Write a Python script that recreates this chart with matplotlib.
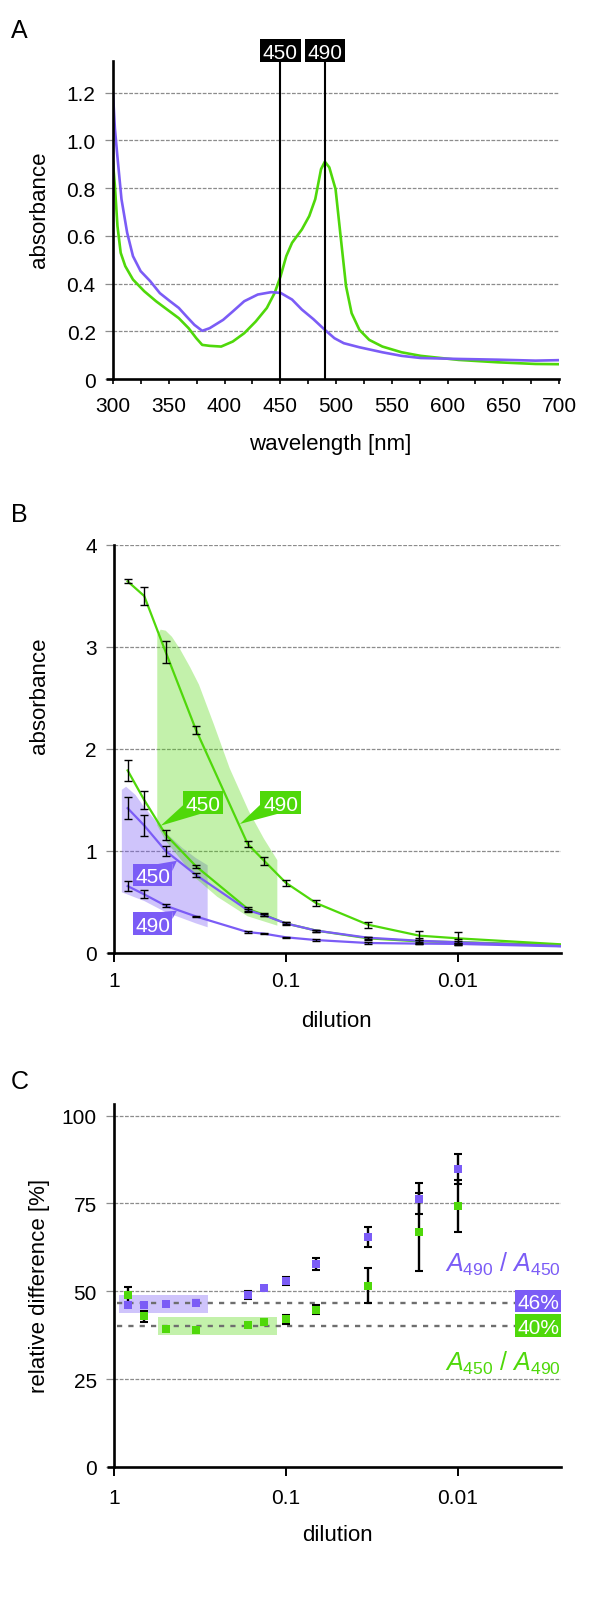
import numpy as np
import matplotlib
matplotlib.use('Agg')
import matplotlib.pyplot as plt
from matplotlib.patches import Rectangle, Polygon
from matplotlib.ticker import NullLocator, MultipleLocator
from matplotlib.transforms import blended_transform_factory as blend

plt.rcParams['font.family'] = ['Liberation Sans', 'DejaVu Sans']
plt.rcParams['mathtext.fontset'] = 'custom'
plt.rcParams['mathtext.rm'] = 'Liberation Sans'
plt.rcParams['mathtext.it'] = 'Liberation Sans:italic'

PURPLE = '#7b5cf6'
GREEN = '#4fd80a'
GRID = '#8c8c8c'

# ---------------- data: panel A (spectra) ----------------
wl_purple = [300, 301.7, 304, 307.6, 312.7, 317.9, 324.8, 333.4, 342, 350.6, 359, 366, 373,
             380, 386.7, 398.8, 407.4, 417.7, 429.8, 441.8, 450.3, 460.6, 469.4, 479.7, 490,
             498.6, 507, 521, 541.6, 558.8, 576, 610.5, 645, 679, 700]
abs_purple = [1.196, 1.05, 0.93, 0.754, 0.613, 0.515, 0.452, 0.41, 0.36, 0.328, 0.298, 0.262, 0.227,
              0.202, 0.213, 0.248, 0.283, 0.326, 0.354, 0.364, 0.361, 0.333, 0.291, 0.251, 0.206,
              0.171, 0.15, 0.133, 0.112, 0.097, 0.088, 0.084, 0.081, 0.077, 0.079]
wl_green = [300, 301.7, 304, 306.9, 311, 317.9, 328, 338.6, 348.9, 359, 367.8, 374.7, 380, 386.7,
            397, 407.4, 417.7, 428, 438, 445, 450.3, 455.4, 460.6, 469.4, 476, 481.4, 486.6, 490,
            494, 499.6, 503.8, 509, 514, 521, 529.8, 541.6, 558.8, 576, 610, 645, 679, 700]
abs_green = [0.908, 0.81, 0.641, 0.529, 0.473, 0.417, 0.368, 0.326, 0.29, 0.255, 0.213, 0.171, 0.143,
             0.139, 0.136, 0.157, 0.192, 0.241, 0.298, 0.361, 0.431, 0.515, 0.571, 0.627, 0.683,
             0.754, 0.88, 0.911, 0.887, 0.796, 0.613, 0.389, 0.276, 0.206, 0.164, 0.136, 0.112,
             0.097, 0.08, 0.07, 0.063, 0.062]
marker_wl = [450, 490]

# ---------------- data: panel B (dilution series) ----------------
dilution = [0.833, 0.667, 0.5, 0.333, 0.1667, 0.1333, 0.1, 0.0667, 0.0333, 0.0167, 0.01]
g490 = [3.644, 3.50, 2.95, 2.186, 1.069, 0.902, 0.689, 0.49, 0.278, 0.17, 0.144]
g490_err = [0.02, 0.09, 0.11, 0.04, 0.03, 0.04, 0.03, 0.03, 0.03, 0.045, 0.06]
g450 = [1.79, 1.50, 1.16, 0.85, 0.433, 0.373, 0.29, 0.22, 0.144, 0.114, 0.107]
g450_err = [0.10, 0.09, 0.05, 0.015, 0.02, 0.015, 0.015, 0.01, 0.015, 0.03, 0.03]
p450 = [1.42, 1.25, 1.0, 0.765, 0.42, 0.37, 0.29, 0.22, 0.15, 0.12, 0.105]
p450_err = [0.11, 0.10, 0.045, 0.015, 0.015, 0.01, 0.01, 0.01, 0.01, 0.01, 0.01]
p490 = [0.656, 0.575, 0.463, 0.358, 0.205, 0.189, 0.154, 0.127, 0.098, 0.092, 0.089]
p490_err = [0.045, 0.04, 0.015, 0.008, 0.006, 0.006, 0.006, 0.006, 0.006, 0.006, 0.006]
# where the curves run out at the right edge
tail_dil = 0.0025
tail_vals = {'g490': 0.085, 'g450': 0.078, 'p450': 0.068, 'p490': 0.065}

# shaded "linear range" areas
pband_x_top = [0.9, 0.85, 0.75, 0.667, 0.5, 0.4, 0.333, 0.285]
pband_y_top = [1.60, 1.63, 1.55, 1.43, 1.18, 1.03, 0.93, 0.86]
pband_x_bot = [0.9, 0.667, 0.5, 0.333, 0.285]
pband_y_bot = [0.595, 0.51, 0.40, 0.29, 0.252]
gband_x_top = [0.56, 0.535, 0.5, 0.46, 0.413, 0.36, 0.32, 0.262, 0.212, 0.164, 0.134, 0.112]
gband_y_top = [3.12, 3.17, 3.16, 3.10, 2.98, 2.80, 2.63, 2.24, 1.81, 1.39, 1.12, 0.91]
gband_x_bot = [0.56, 0.5, 0.333, 0.25, 0.1667, 0.112]
gband_y_bot = [1.25, 1.10, 0.73, 0.55, 0.36, 0.268]

# ---------------- data: panel C (relative difference) ----------------
rd_purple = [46.2, 46.0, 46.3, 46.8, 48.9, 51.0, 53.0, 57.8, 65.5, 76.4, 84.8]
rd_purple_err = [0.5, 0.6, 0.4, 0.6, 1.1, 0.6, 1.1, 1.7, 2.8, 4.3, 4.2]
rd_green = [48.9, 42.9, 39.2, 38.9, 40.5, 41.2, 42.0, 44.8, 51.6, 66.9, 74.3]
rd_green_err = [2.4, 1.6, 0.5, 0.5, 0.5, 0.8, 1.2, 1.3, 4.9, 11.2, 7.4]
mean_purple, mean_green = 46.6, 40.2
prect_x, prect_y = [0.935, 0.285], [43.8, 48.96]
grect_x, grect_y = [0.557, 0.112], [37.55, 42.6]

# ---------------- figure ----------------
W, H = 600, 1624
fig = plt.figure(figsize=(W / 100, H / 100), dpi=100)


def rect(left, top, right, bottom):
    return [left / W, 1 - bottom / H, (right - left) / W, (bottom - top) / H]


def style(ax, yticks, ylabels, width_px):
    for s in ['top', 'right']:
        ax.spines[s].set_visible(False)
    for s in ['left', 'bottom']:
        ax.spines[s].set_linewidth(1.9)
    ax.set_yticks(yticks, ylabels)
    ax.tick_params(axis='y', length=5.5, width=0.9, color=GRID, pad=7, labelsize=15)
    for v in yticks[1:]:
        ax.axhline(v, color=GRID, lw=0.9, ls=(0, (3, 1.2)), zorder=0)
    ax.plot([-7.5 / width_px, 0], [0, 0], transform=ax.transAxes, color='k', lw=1.9,
            clip_on=False, solid_capstyle='butt')


def box_tag(text, x0, y0, x1, y1, color, size=15):
    fig.patches.append(Rectangle((x0 / W, 1 - y1 / H), (x1 - x0) / W, (y1 - y0) / H,
                                 transform=fig.transFigure, fc=color, ec='none', zorder=5))
    em = size * 100 / 72
    base = (y0 + y1) / 2 + 0.716 * em / 2
    fig.text((x0 + x1) / 2 / W, 1 - base / H, text, ha='center', va='baseline',
             color='white', fontsize=size, zorder=6)


def wedge(ax, tip, p1, p2, p3, color):
    tx, ty = ax.transData.transform(tip)
    pts = [(tx / W, ty / H)] + [(x / W, 1 - y / H) for x, y in (p1, p2, p3)]
    fig.patches.append(Polygon(pts, closed=True, transform=fig.transFigure,
                               fc=color, ec='none', zorder=5))


# ---- Panel A ----
axA = fig.add_axes(rect(113, 62, 559, 380))
axA.set_xlim(300, 700)
axA.set_ylim(0, 1.333)
style(axA, [0, 0.2, 0.4, 0.6, 0.8, 1.0, 1.2], ['0', '0.2', '0.4', '0.6', '0.8', '1.0', '1.2'], 446)
axA.plot(wl_green, abs_green, color=GREEN, lw=1.9, zorder=2)
axA.plot(wl_purple, abs_purple, color=PURPLE, lw=1.9, zorder=2)
for w in marker_wl:
    axA.axvline(w, color='k', lw=1.5, zorder=3)
axA.set_xticks(range(300, 701, 50))
axA.xaxis.set_minor_locator(MultipleLocator(25))
axA.tick_params(axis='x', which='both', length=3.3, width=1.2, pad=9, labelsize=15)

for w in marker_wl:
    cx = axA.transData.transform((w, 0))[0]
    box_tag(str(w), cx - 20.3, 40, cx + 20.3, 62.5, 'black')

# ---- Panel B ----
axB = fig.add_axes(rect(114, 546, 561, 954))
axB.set_xscale('log')
axB.set_xlim(1, 0.0025)
axB.set_ylim(0, 4)
style(axB, [0, 1, 2, 3, 4], ['0', '1', '2', '3', '4'], 447)
axB.set_xticks([1, 0.1, 0.01], ['1', '0.1', '0.01'])
axB.xaxis.set_minor_locator(NullLocator())
axB.tick_params(axis='x', length=6.3, width=1.4, pad=7, labelsize=15)

axB.fill(pband_x_top + pband_x_bot[::-1], pband_y_top + pband_y_bot[::-1],
         color=PURPLE, alpha=0.36, lw=0, zorder=1)
axB.fill(gband_x_top + gband_x_bot[::-1], gband_y_top + gband_y_bot[::-1],
         color=GREEN, alpha=0.34, lw=0, zorder=1)

series = [(g490, g490_err, GREEN, 'g490'), (g450, g450_err, GREEN, 'g450'),
          (p450, p450_err, PURPLE, 'p450'), (p490, p490_err, PURPLE, 'p490')]
for vals, err, col, key in series:
    axB.plot(dilution + [tail_dil], vals + [tail_vals[key]], color=col, lw=1.6, zorder=2)
    axB.errorbar(dilution, vals, yerr=err, fmt='none', ecolor='k', elinewidth=1.0,
                 capsize=2.6, capthick=1.0, zorder=4)

# callouts
wedge(axB, (0.535, 1.248), (183.3, 806), (183.3, 815), (200, 815), GREEN)
box_tag('450', 183.3, 792.3, 223.3, 815, GREEN)
wedge(axB, (0.185, 1.265), (260, 806), (260, 815), (277, 815), GREEN)
box_tag('490', 260, 792.3, 301, 815, GREEN)
wedge(axB, (0.43, 0.905), (158, 865), (172.3, 865), (172.3, 872), PURPLE)
box_tag('450', 132.7, 865, 172.3, 886.7, PURPLE)
wedge(axB, (0.43, 0.415), (158, 913.3), (172.3, 913.3), (172.3, 920), PURPLE)
box_tag('490', 132.7, 913.3, 172.3, 935.7, PURPLE)

# ---- Panel C ----
axC = fig.add_axes(rect(114, 1105, 561, 1468))
axC.set_xscale('log')
axC.set_xlim(1, 0.0025)
axC.set_ylim(0, 103.3)
style(axC, [0, 25, 50, 75, 100], ['0', '25', '50', '75', '100'], 447)
axC.set_xticks([1, 0.1, 0.01], ['1', '0.1', '0.01'])
axC.xaxis.set_minor_locator(NullLocator())
axC.tick_params(axis='x', length=6.3, width=1.4, pad=9, labelsize=15)

axC.fill_between(prect_x, prect_y[0], prect_y[1], color=PURPLE, alpha=0.36, lw=0, zorder=1)
axC.fill_between(grect_x, grect_y[0], grect_y[1], color=GREEN, alpha=0.34, lw=0, zorder=1)
for m in (mean_purple, mean_green):
    axC.axhline(m, xmin=3 / 447, xmax=401 / 447, color='#6e6e6e', lw=1.7,
                ls=(0, (2.2, 2.6)), zorder=2)

axC.errorbar(dilution, rd_purple, yerr=rd_purple_err, fmt='none', ecolor='k', elinewidth=1.7,
             capsize=2.8, capthick=1.5, zorder=3)
axC.errorbar(dilution, rd_green, yerr=rd_green_err, fmt='none', ecolor='k', elinewidth=1.7,
             capsize=2.8, capthick=1.5, zorder=3)
axC.plot(dilution, rd_purple, ls='none', marker='s', ms=5.6, color=PURPLE, mew=0, zorder=4)
axC.plot(dilution, rd_green, ls='none', marker='s', ms=5.6, color=GREEN, mew=0, zorder=4)

box_tag('46%', 515, 1291, 561, 1313, PURPLE)
box_tag('40%', 515, 1315, 561, 1337.7, GREEN)
tr = blend(axC.transAxes, axC.transData)
axC.text(1.0, 55.9, r'$A_{490}$ / $A_{450}$', transform=tr, ha='right', va='baseline',
         color=PURPLE, fontsize=18)
axC.text(1.0, 27.6, r'$A_{450}$ / $A_{490}$', transform=tr, ha='right', va='baseline',
         color=GREEN, fontsize=18)

# ---- labels ----
for letter, base in (('A', 38), ('B', 522), ('C', 1089)):
    fig.text(11 / W, 1 - base / H, letter, fontsize=18, va='baseline', ha='left')
for txt, cy in (('absorbance', 210), ('absorbance', 696), ('relative difference [%]', 1286)):
    fig.text(40 / W, 1 - cy / H, txt, rotation=90, ha='center', va='center', fontsize=16)
for txt, cx, base in (('wavelength [nm]', 330, 450), ('dilution', 336, 1027), ('dilution', 337, 1541)):
    fig.text(cx / W, 1 - base / H, txt, ha='center', va='baseline', fontsize=16)

fig.savefig('out.png', dpi=100)
